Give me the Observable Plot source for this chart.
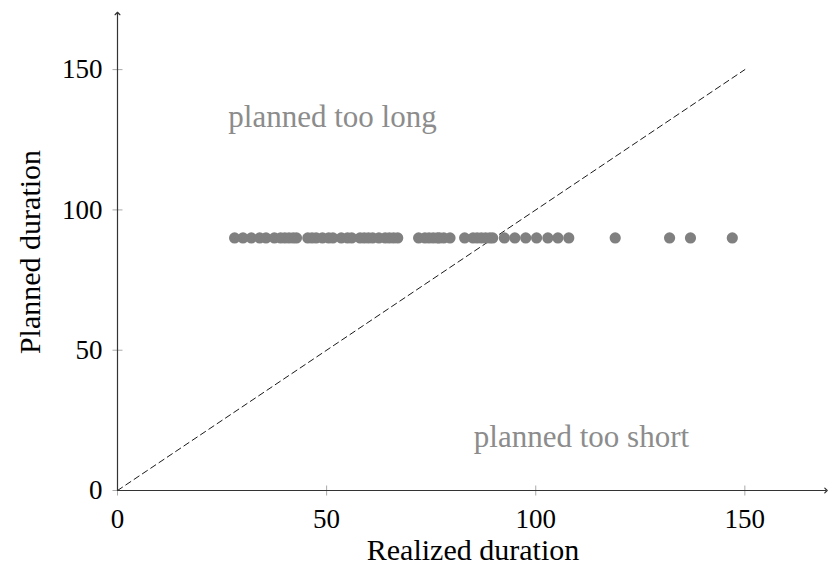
<!DOCTYPE html>
<html><head><meta charset="utf-8">
<script src="https://cdn.jsdelivr.net/npm/d3@7"></script>
<script src="https://cdn.jsdelivr.net/npm/@observablehq/plot@0.6"></script>
<style>body{margin:0;background:#fff} svg{display:block}</style>
</head><body><div id="chart"></div>
<script>
// Realized durations (x); every task was planned at 90
const realized = [28, 30, 32, 34, 35.5, 37.5, 39, 40, 41, 42, 42.8, 45.5, 46.5, 47.5, 49, 50.5, 51.5, 53.5, 55, 56, 58, 59, 60, 61, 62.5, 64, 65, 66, 67,
  72, 73.5, 74.5, 75.5, 76.5, 77, 78, 79.5,
  83, 85, 86, 87, 88, 89, 89.7,
  92.5, 95, 97.6, 100.2, 102.9, 105.3, 107.9,
  119, 132, 137, 147];
const plannedValue = 90;
const xTicks = [0, 50, 100, 150];
const yTicks = [0, 50, 100, 150];
const xMax = 169.4, yMax = 170;
const diagonal = [{x: 0, y: 0}, {x: 150, y: 150}];
const annotations = [
  {x: 26.5, y: 133, text: "planned too long"},
  {x: 85.2, y: 19, text: "planned too short"}
];
const xLabel = "Realized duration", yLabel = "Planned duration";

const font = "'Liberation Serif', 'DejaVu Serif', serif";
const vTick = {draw(c) { c.moveTo(0, -5); c.lineTo(0, 5); }};
const hTick = {draw(c) { c.moveTo(-5, 0); c.lineTo(5, 0); }};

const chart = Plot.plot({
  width: 828, height: 567,
  marginLeft: 117, marginRight: 0, marginTop: 13, marginBottom: 77,
  style: {fontFamily: font, fontSize: "27px", color: "#000", background: "#fff"},
  x: {domain: [0, 170]},
  y: {domain: [0, 170]},
  marks: [
    Plot.axisX({ticks: xTicks, tickSize: 0, tickPadding: 18, label: null, fontSize: 27, tickFormat: d => String(d)}),
    Plot.axisY({ticks: yTicks, tickSize: 0, tickPadding: 15, label: null, fontSize: 27, tickFormat: d => String(d)}),
    Plot.dot(xTicks, {x: d => d, y: () => 0, symbol: vTick, fill: "none", stroke: "#aaa", strokeWidth: 1}),
    Plot.dot(yTicks, {x: () => 0, y: d => d, symbol: hTick, fill: "none", stroke: "#aaa", strokeWidth: 1}),
    Plot.line(diagonal, {x: "x", y: "y", stroke: "#000", strokeWidth: 0.9, strokeDasharray: "6,4"}),
    Plot.dot(realized, {x: d => d, y: () => plannedValue, r: 5.6, fill: "#808080", stroke: "none"}),
    Plot.link([0], {x1: () => 0, y1: () => 0, x2: () => xMax, y2: () => 0, stroke: "#333", strokeWidth: 1.2, markerEnd: "arrow"}),
    Plot.link([0], {x1: () => 0, y1: () => 0, x2: () => 0, y2: () => yMax, stroke: "#333", strokeWidth: 1.2, markerEnd: "arrow"}),
    Plot.text(annotations, {x: "x", y: "y", text: "text", textAnchor: "start", fill: "#8c8c8c", fontSize: 31}),
    Plot.text([xLabel], {frameAnchor: "bottom", dy: 69, text: d => d, fontSize: 30, fill: "#000"}),
    Plot.text([yLabel], {frameAnchor: "left", dx: -87, rotate: -90, textAnchor: "middle", text: d => d, fontSize: 30, fill: "#000"})
  ]
});
document.getElementById("chart").appendChild(chart);
</script>
</body></html>
